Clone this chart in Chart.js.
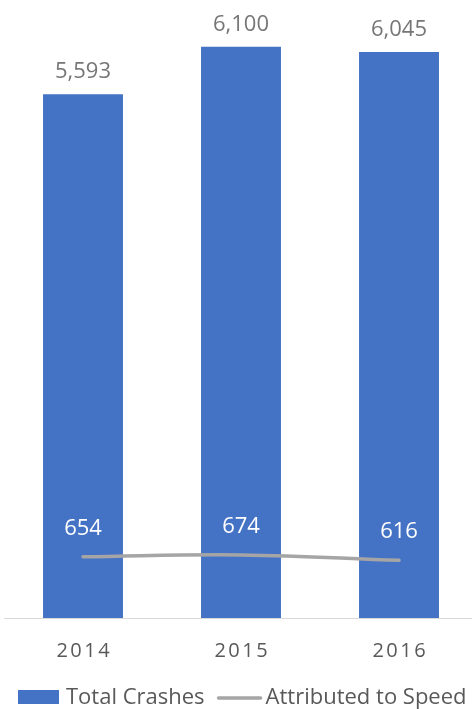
<!DOCTYPE html>
<html>
<head>
<meta charset="utf-8">
<title>Crashes 2014-2016</title>
<script src="https://cdn.jsdelivr.net/npm/chart.js@4.4.0/dist/chart.umd.min.js"></script>
<style>
    html, body { margin: 0; padding: 0; background: #fff; overflow: hidden; }
    #wrap { width: 480px; height: 709px; position: relative; }
</style>
</head>
<body>
<div id="wrap"><canvas id="crashes-chart"></canvas></div>
<script>
// Data
const years = ['2014', '2015', '2016'];
const totalCrashes = [5593, 6100, 6045];
const speedCrashes = [654, 674, 616];
const seriesNames = ['Total Crashes', 'Attributed to Speed'];
const yMax = 6600;

// Colours and fonts
const BAR_BLUE = '#4472C4';
const LINE_GREY = '#A5A5A5';
const TEXT_GREY = '#595959';
const LABEL_GREY = '#767676';
const FONT = '"Open Sans", "Noto Sans", sans-serif';

const fmt = v => v.toLocaleString('en-US');

// Value labels above bars (grey) and above line points (white)
const valueLabels = {
    id: 'valueLabels',
    afterDatasetsDraw(chart) {
        const ctx = chart.ctx;
        ctx.save();
        ctx.font = '22px ' + FONT;
        ctx.textAlign = 'center';
        ctx.textBaseline = 'alphabetic';

        chart.getDatasetMeta(0).data.forEach((bar, i) => {
            ctx.fillStyle = LABEL_GREY;
            ctx.fillText(fmt(totalCrashes[i]), bar.x, bar.y - 16);
        });
        chart.getDatasetMeta(1).data.forEach((pt, i) => {
            ctx.fillStyle = '#FFFFFF';
            ctx.fillText(fmt(speedCrashes[i]), pt.x, pt.y - 22);
        });
        ctx.restore();
    }
};

// Category labels with wide letter spacing
const spacedTicks = {
    id: 'spacedTicks',
    afterDraw(chart) {
        const ctx = chart.ctx;
        const xScale = chart.scales.x;
        const spacing = 2.5;
        ctx.save();
        ctx.font = '20px ' + FONT;
        ctx.fillStyle = TEXT_GREY;
        ctx.textAlign = 'center';
        ctx.textBaseline = 'alphabetic';
        ctx.letterSpacing = spacing + 'px';
        years.forEach((label, i) => {
            ctx.fillText(label, xScale.getPixelForTick(i) + spacing / 2, chart.chartArea.bottom + 39);
        });
        ctx.restore();
    }
};

// Legend under the axis: blue box for bars, grey stroke for the line
const bottomLegend = {
    id: 'bottomLegend',
    afterDraw(chart) {
        const ctx = chart.ctx;
        const baseline = chart.chartArea.bottom + 86;
        ctx.save();
        ctx.font = '22px ' + FONT;
        ctx.fillStyle = TEXT_GREY;
        ctx.textBaseline = 'alphabetic';
        ctx.textAlign = 'left';

        let x = 18;
        ctx.fillStyle = BAR_BLUE;
        ctx.fillRect(x, baseline - 14, 41, 14);
        x += 41 + 7;
        ctx.fillStyle = TEXT_GREY;
        ctx.fillText(seriesNames[0], x, baseline);
        x += ctx.measureText(seriesNames[0]).width + 14;

        ctx.strokeStyle = LINE_GREY;
        ctx.lineWidth = 3.5;
        ctx.lineCap = 'round';
        ctx.beginPath();
        ctx.moveTo(x, baseline - 6);
        ctx.lineTo(x + 42, baseline - 6);
        ctx.stroke();
        x += 42 + 5;
        ctx.fillText(seriesNames[1], x, baseline);
        ctx.restore();
    }
};

const ctx = document.getElementById('crashes-chart').getContext('2d');
const crashesChart = new Chart(ctx, {
    type: 'bar',
    data: {
        labels: years,
        datasets: [
            {
                type: 'bar',
                label: seriesNames[0],
                data: totalCrashes,
                backgroundColor: BAR_BLUE,
                borderWidth: 0,
                categoryPercentage: 0.506,
                barPercentage: 1,
                order: 1
            },
            {
                type: 'line',
                label: seriesNames[1],
                data: speedCrashes,
                borderColor: LINE_GREY,
                borderWidth: 3.5,
                borderCapStyle: 'round',
                pointRadius: 0,
                tension: 0.4,
                fill: false,
                order: 0
            }
        ]
    },
    options: {
        responsive: true,
        maintainAspectRatio: false,
        animation: false,
        layout: {
            padding: { top: 0, left: 4, right: 2, bottom: 91 }
        },
        scales: {
            x: {
                grid: { display: false, drawTicks: false },
                border: { display: true, color: '#D9D9D9', width: 1 },
                ticks: { display: false }
            },
            y: {
                display: false,
                min: 0,
                max: yMax
            }
        },
        plugins: {
            legend: { display: false },
            tooltip: { enabled: false }
        }
    },
    plugins: [valueLabels, spacedTicks, bottomLegend]
});
</script>
</body>
</html>
